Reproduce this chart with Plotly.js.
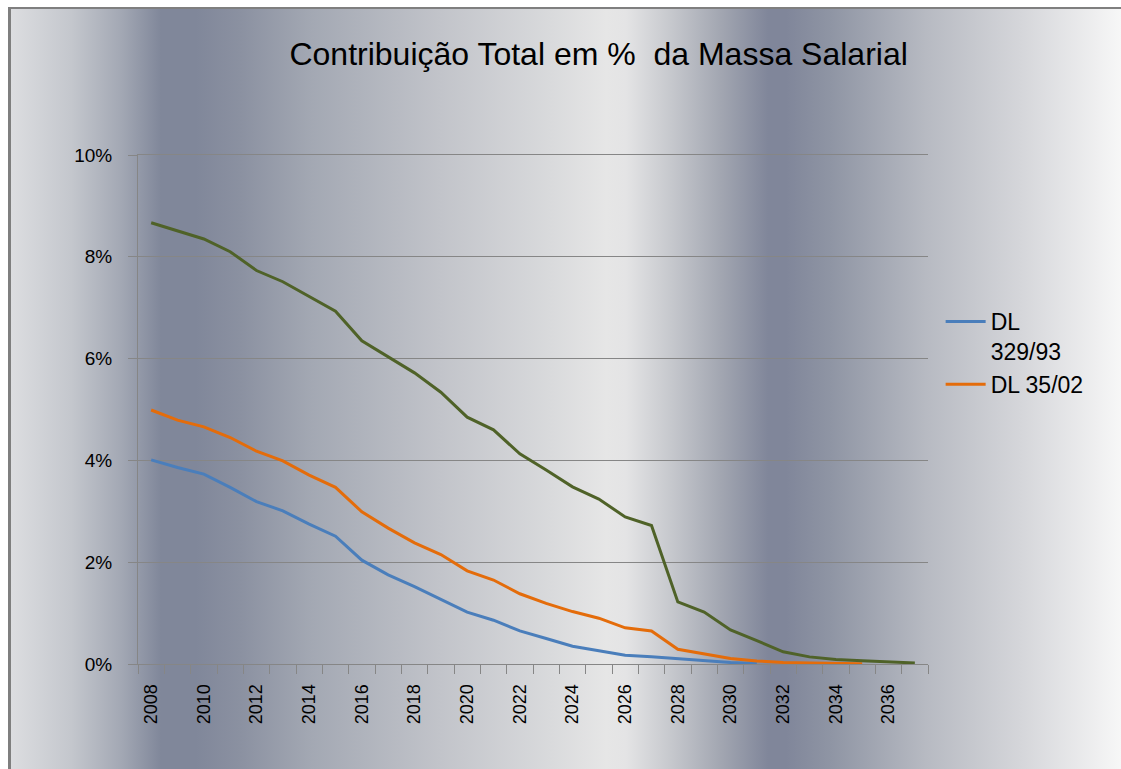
<!DOCTYPE html>
<html>
<head>
<meta charset="utf-8">
<script src="https://cdn.plot.ly/plotly-3.0.1.min.js"></script>
<style>
  html, body { margin: 0; padding: 0; background: #ffffff; }
  #wrap { position: relative; width: 1121px; height: 769px; overflow: hidden; }
  #bg {
    position: absolute; left: 8px; top: 7px; right: 0; bottom: 0;
    border-left: 3px solid #7f7f7f; border-top: 2px solid #7f7f7f;
    background: linear-gradient(to right,
      #dcdde0 0px, #c4c7cd 60px, #a3a8b4 110px, #80879a 150px, #80879a 185px,
      #8b91a1 230px, #a3a8b3 300px, #c2c4ca 430px, #d9dadc 540px, #e6e6e6 595px,
      #e4e4e5 615px, #c6c8cd 660px, #a2a6b1 710px, #80869a 757px, #80869a 775px,
      #8f95a4 820px, #b7bac2 915px, #d5d6da 1010px, #f7f7f7 1110px);
  }
  #chart { position: absolute; left: 0; top: 0; width: 1121px; height: 769px; }
</style>
</head>
<body>
<div id="wrap">
  <div id="bg"></div>
  <div id="chart"></div>
</div>
<script>
const years = [2008,2009,2010,2011,2012,2013,2014,2015,2016,2017,2018,2019,2020,2021,2022,
               2023,2024,2025,2026,2027,2028,2029,2030,2031,2032,2033,2034,2035,2036,2037];
const tickYears = [2008,2010,2012,2014,2016,2018,2020,2022,2024,2026,2028,2030,2032,2034,2036];

// % of payroll
const dl32993 = [4.01,3.86,3.73,3.47,3.19,3.01,2.75,2.51,2.04,1.75,1.52,1.27,1.02,0.86,0.65,
                 0.50,0.35,0.26,0.17,0.14,0.10,0.07,0.03,0.01,null,null,null,null,null,null];
const dl3502  = [4.99,4.79,4.66,4.45,4.18,3.99,3.71,3.47,2.99,2.67,2.38,2.15,1.83,1.65,1.38,
                 1.19,1.03,0.90,0.71,0.65,0.29,0.20,0.11,0.06,0.03,0.02,0.01,0.005,null,null];
const total   = [8.67,8.51,8.35,8.10,7.73,7.51,7.22,6.93,6.35,6.03,5.72,5.34,4.85,4.60,4.13,
                 3.81,3.48,3.24,2.89,2.72,1.22,1.02,0.67,0.46,0.24,0.14,0.09,0.065,0.04,0.02];

const seriesNames = ['DL<br>329/93', 'DL 35/02', 'Total'];
const yTicks = [0,2,4,6,8,10];

const FONT = '"Liberation Sans", Arial, "DejaVu Sans", sans-serif';

const traces = [
  {x: years, y: dl32993, name: seriesNames[0], type: 'scatter', mode: 'lines',
   line: {color: '#4a7ebb', width: 3}},
  {x: years, y: dl3502, name: seriesNames[1], type: 'scatter', mode: 'lines',
   line: {color: '#e46c0a', width: 3}},
  {x: years, y: total, name: seriesNames[2], type: 'scatter', mode: 'lines',
   line: {color: '#4f6228', width: 3}, showlegend: false}
];

const layout = {
  width: 1121, height: 769,
  margin: {l: 138, r: 193, t: 155, b: 105, pad: 0},
  paper_bgcolor: 'rgba(0,0,0,0)',
  plot_bgcolor: 'rgba(0,0,0,0)',
  font: {family: FONT, color: '#000000'},
  title: {text: 'Contribuição Total em %  da Massa Salarial',
          font: {family: FONT, size: 32, color: '#000000'},
          x: 0.534, xanchor: 'center', y: 0.93, yanchor: 'middle'},
  showlegend: true,
  legend: {x: 1.016, xanchor: 'left', y: 0.715, yanchor: 'top',
           bgcolor: 'rgba(0,0,0,0)', font: {family: FONT, size: 23, color: '#000'},
           valign: 'top', tracegroupgap: 14, itemwidth: 40},
  xaxis: {
    type: 'linear', range: [2007.5, 2037.5],
    tickmode: 'array', tickvals: tickYears, ticktext: tickYears.map(String),
    tickangle: -90, tickfont: {family: FONT, size: 18, color: '#000'},
    ticks: 'outside', ticklen: 12, tickcolor: 'rgba(0,0,0,0)',
    minor: {ticks: 'outside', tick0: 2007.5, dtick: 1, ticklen: 9, tickcolor: '#868686', tickwidth: 1, showgrid: false},
    showgrid: false, zeroline: false,
    showline: true, mirror: true, linecolor: '#868686', linewidth: 1
  },
  yaxis: {
    range: [0, 10], tickmode: 'array', tickvals: yTicks,
    ticktext: yTicks.map(v => v + '%'),
    tickfont: {family: FONT, size: 19, color: '#000'},
    ticks: 'outside', ticklen: 9, tickcolor: '#868686',
    showgrid: true, gridcolor: '#868686', gridwidth: 1,
    zeroline: false, showline: true, linecolor: '#868686', linewidth: 1,
    ticklabelstandoff: 12
  }
};

Plotly.newPlot('chart', traces, layout, {staticPlot: true, displayModeBar: false});
</script>
</body>
</html>
